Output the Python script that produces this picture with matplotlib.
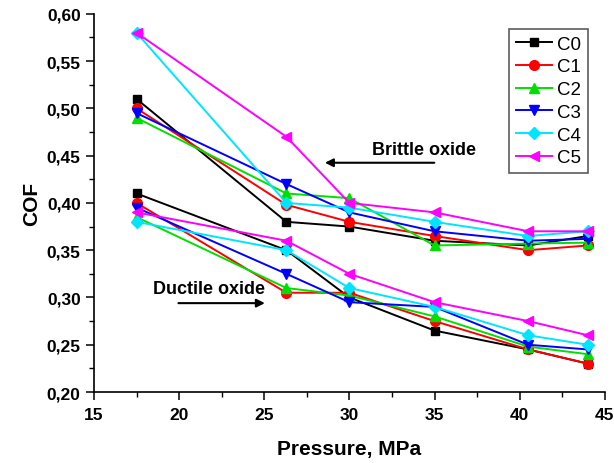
import matplotlib
matplotlib.use("Agg")
import matplotlib.pyplot as plt
from matplotlib.ticker import MultipleLocator, FuncFormatter

plt.rcParams['font.family'] = ['Liberation Sans', 'DejaVu Sans']

pressure = [17.5, 26.3, 30, 35, 40.5, 44]
names = ['C0', 'C1', 'C2', 'C3', 'C4', 'C5']

# upper branch (brittle oxide)
upper = {
    'C0': [0.51, 0.38, 0.375, 0.36, 0.355, 0.365],
    'C1': [0.50, 0.398, 0.38, 0.365, 0.35, 0.355],
    'C2': [0.49, 0.41, 0.405, 0.355, 0.357, 0.358],
    'C3': [0.495, 0.42, 0.39, 0.37, 0.36, 0.362],
    'C4': [0.58, 0.40, 0.395, 0.38, 0.365, 0.37],
    'C5': [0.58, 0.47, 0.40, 0.39, 0.37, 0.37],
}
# lower branch (ductile oxide)
lower = {
    'C0': [0.41, 0.35, 0.30, 0.265, 0.245, 0.23],
    'C1': [0.40, 0.305, 0.305, 0.275, 0.245, 0.23],
    'C2': [0.385, 0.31, 0.302, 0.28, 0.248, 0.24],
    'C3': [0.395, 0.325, 0.295, 0.29, 0.25, 0.245],
    'C4': [0.38, 0.35, 0.31, 0.29, 0.26, 0.25],
    'C5': [0.39, 0.36, 0.325, 0.295, 0.275, 0.26],
}

colors = ['black', '#ff0000', '#00e000', '#0000ff', '#00e5ff', '#ff00ff']
markers = ['s', 'o', '^', 'v', 'D', '<']
msizes = [6, 7, 7, 7, 6, 7]

fig = plt.figure(figsize=(6.14, 4.64), dpi=100)
ax = fig.add_axes([0.153, 0.153, 0.832, 0.815])

for n, c, m, ms in zip(names, colors, markers, msizes):
    ax.plot(pressure, upper[n], color=c, marker=m, markersize=ms, lw=1.4, label=n)
    ax.plot(pressure, lower[n], color=c, marker=m, markersize=ms, lw=1.4)

ax.set_xlim(15, 45)
ax.set_ylim(0.20, 0.60)
ax.xaxis.set_major_locator(MultipleLocator(5))
ax.xaxis.set_minor_locator(MultipleLocator(2.5))
ax.yaxis.set_major_locator(MultipleLocator(0.05))
ax.yaxis.set_minor_locator(MultipleLocator(0.025))
ax.yaxis.set_major_formatter(FuncFormatter(lambda v, p: f"{v:.2f}".replace('.', ',')))
ax.spines['top'].set_visible(False)
ax.spines['right'].set_visible(False)
ax.spines['left'].set_linewidth(1.2)
ax.spines['bottom'].set_linewidth(1.2)
ax.tick_params(which='major', length=6, width=1.1, labelsize=12.5)
ax.tick_params(axis='x', which='major', pad=5)
ax.tick_params(which='minor', length=3.5, width=1.0)
for lbl in ax.get_xticklabels() + ax.get_yticklabels():
    lbl.set_fontweight('bold')

ax.set_xlabel('Pressure, MPa', fontsize=15, fontweight='bold', labelpad=12)
ax.set_ylabel('COF', fontsize=15, fontweight='bold', labelpad=4)

ax.text(34.4, 0.457, 'Brittle oxide', fontsize=13, fontweight='bold', ha='center', va='center')
ax.annotate('', xy=(28.4, 0.4425), xytext=(35.15, 0.4425),
            arrowprops=dict(arrowstyle='-|>', color='black', lw=1.5, mutation_scale=12))
ax.text(21.75, 0.310, 'Ductile oxide', fontsize=13, fontweight='bold', ha='center', va='center')
ax.annotate('', xy=(25.2, 0.294), xytext=(19.8, 0.294),
            arrowprops=dict(arrowstyle='-|>', color='black', lw=1.5, mutation_scale=12))

leg = ax.legend(loc='upper right', bbox_to_anchor=(0.985, 0.985), fontsize=13.5, frameon=True,
                fancybox=False, edgecolor='#333333', handlelength=1.9, labelspacing=0.3,
                borderpad=0.35, handletextpad=0.3)
leg.get_frame().set_linewidth(1.2)

fig.savefig('out.png', dpi=100)
